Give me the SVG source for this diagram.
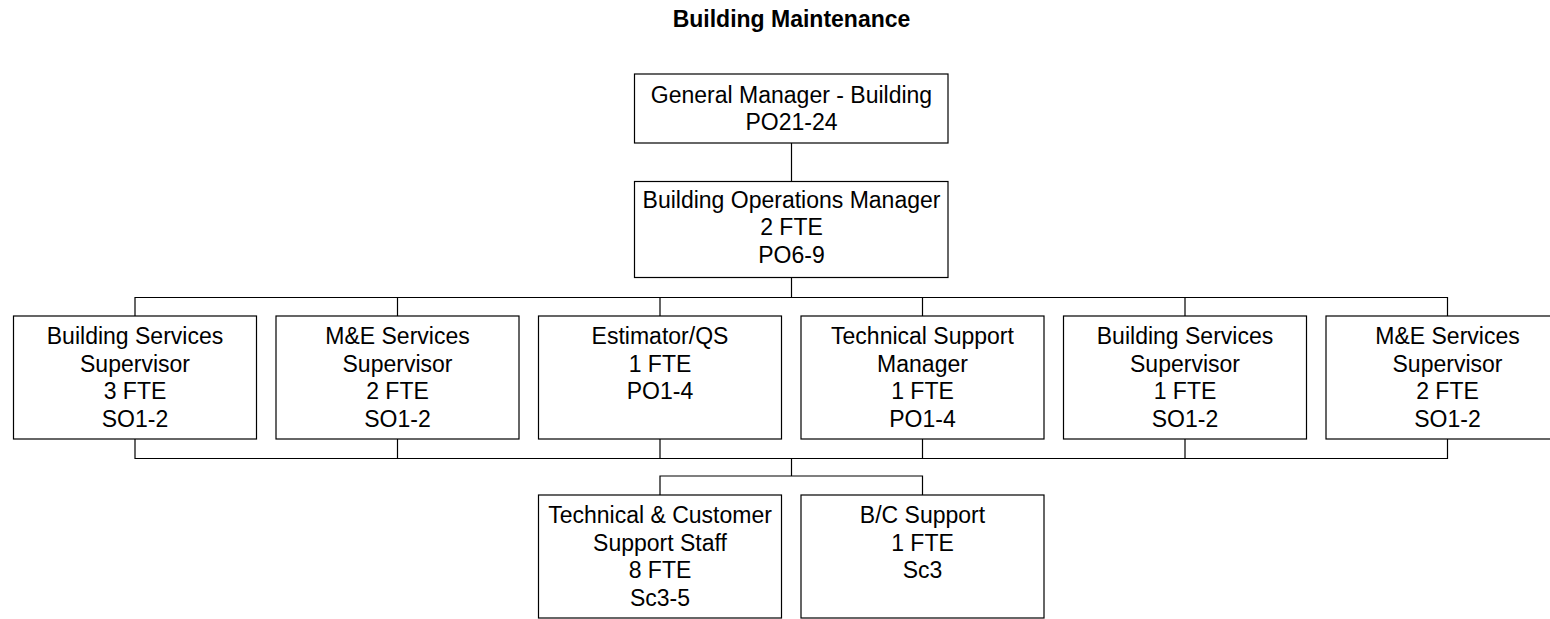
<svg xmlns="http://www.w3.org/2000/svg" width="1550" height="619" viewBox="0 0 1550 619">
<style>
rect.box{fill:#fff;stroke:#000;stroke-width:1.2}
.conn path{fill:none;stroke:#000;stroke-width:1.2}
text{font-family:"Liberation Sans",Arial,sans-serif;font-size:23px;fill:#000;text-anchor:middle}
text.title{font-weight:bold}
</style>
<rect width="1550" height="619" fill="#fff"/>
<text class="title" x="791.5" y="27">Building Maintenance</text>
<g class="conn" id="connectors">
<path d="M791.5 143V181.5"/>
<path d="M791.5 277.5V297.5M135 316V297.5H1447.5V316M397.5 297.5V316M660 297.5V316M922.5 297.5V316M1185 297.5V316"/>
<path d="M135 439V458.5H1447.5V439M397.5 439V458.5M660 439V458.5M922.5 439V458.5M1185 439V458.5"/>
<path d="M791.5 458.5V476M660 495V476H922.5V495"/>
</g>
<g id="gm"><rect class="box" x="634.5" y="74" width="313.5" height="69"/>
<text x="791.5" y="103">General Manager - Building</text><text x="791.5" y="130">PO21-24</text></g>
<g id="bom"><rect class="box" x="634.5" y="181.5" width="313.5" height="96"/>
<text x="791.5" y="207.5">Building Operations Manager</text><text x="791.5" y="235">2 FTE</text><text x="791.5" y="262.5">PO6-9</text></g>
<g id="bss1"><rect class="box" x="13.5" y="316" width="243" height="123"/>
<text x="135" y="344">Building Services</text><text x="135" y="371.5">Supervisor</text><text x="135" y="399">3 FTE</text><text x="135" y="426.5">SO1-2</text></g>
<g id="mes1"><rect class="box" x="276" y="316" width="243" height="123"/>
<text x="397.5" y="344">M&amp;E Services</text><text x="397.5" y="371.5">Supervisor</text><text x="397.5" y="399">2 FTE</text><text x="397.5" y="426.5">SO1-2</text></g>
<g id="est"><rect class="box" x="538.5" y="316" width="243" height="123"/>
<text x="660" y="344">Estimator/QS</text><text x="660" y="371.5">1 FTE</text><text x="660" y="399">PO1-4</text></g>
<g id="tsm"><rect class="box" x="801" y="316" width="243" height="123"/>
<text x="922.5" y="344">Technical Support</text><text x="922.5" y="371.5">Manager</text><text x="922.5" y="399">1 FTE</text><text x="922.5" y="426.5">PO1-4</text></g>
<g id="bss2"><rect class="box" x="1063.5" y="316" width="243" height="123"/>
<text x="1185" y="344">Building Services</text><text x="1185" y="371.5">Supervisor</text><text x="1185" y="399">1 FTE</text><text x="1185" y="426.5">SO1-2</text></g>
<g id="mes2"><rect class="box" x="1326" y="316" width="243" height="123"/>
<text x="1447.5" y="344">M&amp;E Services</text><text x="1447.5" y="371.5">Supervisor</text><text x="1447.5" y="399">2 FTE</text><text x="1447.5" y="426.5">SO1-2</text></g>
<g id="tcs"><rect class="box" x="538.5" y="495" width="243" height="123"/>
<text x="660" y="523">Technical &amp; Customer</text><text x="660" y="550.5">Support Staff</text><text x="660" y="578">8 FTE</text><text x="660" y="605.5">Sc3-5</text></g>
<g id="bcs"><rect class="box" x="801" y="495" width="243" height="123"/>
<text x="922.5" y="523">B/C Support</text><text x="922.5" y="550.5">1 FTE</text><text x="922.5" y="578">Sc3</text></g>
</svg>
